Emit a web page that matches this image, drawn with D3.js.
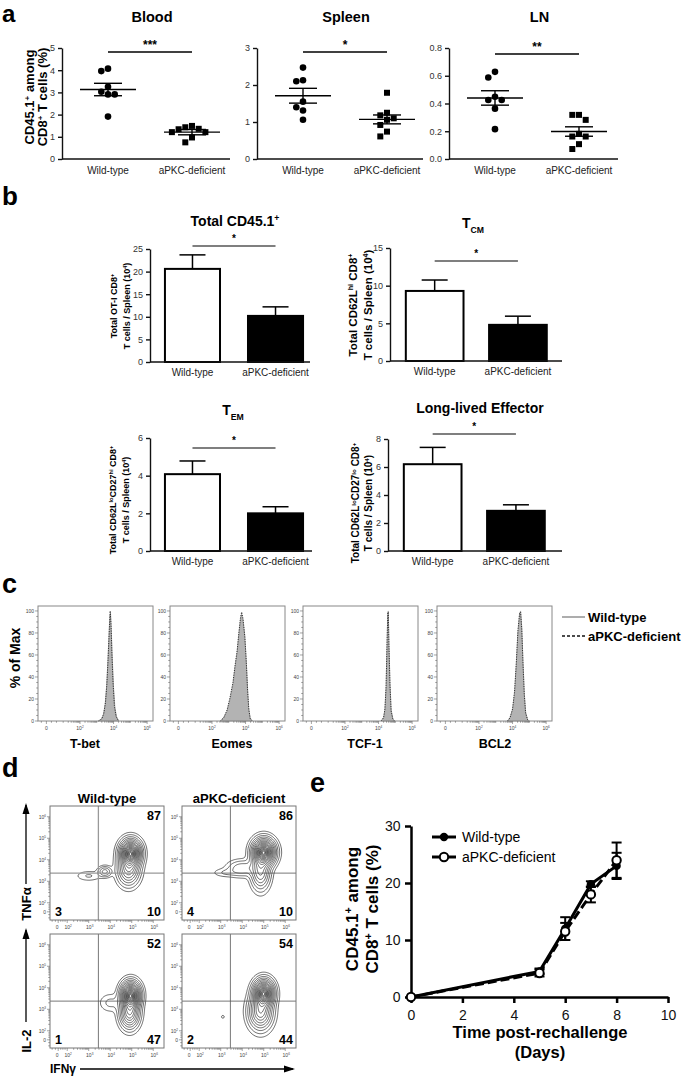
<!DOCTYPE html>
<html><head><meta charset="utf-8">
<script src="https://cdn.jsdelivr.net/npm/d3@7"></script>
<style>
body{margin:0;background:#fff}
text{font-family:"Liberation Sans",Arial,Helvetica,sans-serif}
</style>
</head><body>
<svg id="fig" width="685" height="1083" xmlns="http://www.w3.org/2000/svg"></svg>
<script>
// ================= DATA =================
const groups = ["Wild-type", "aPKC-deficient"];

// Panel a: CD45.1+ among CD8+ T cells (%)
const bloodWT = [4.07, 3.96, 3.25, 3.03, 2.91, 2.91, 1.91];
const bloodKO = [1.49, 1.36, 1.21, 1.21, 1.34, 1.43, 0.97, 0.75];
const bloodMean = [3.13, 1.21], bloodSem = [0.28, 0.12];
const spleenWT = [2.47, 2.13, 2.10, 1.55, 1.40, 1.31, 1.06];
const spleenKO = [1.79, 1.25, 1.18, 1.10, 1.06, 0.92, 0.74, 0.61];
const spleenMean = [1.71, 1.07], spleenSem = [0.20, 0.12];
const lnWT = [0.628, 0.587, 0.449, 0.425, 0.425, 0.363, 0.215];
const lnKO = [0.318, 0.318, 0.282, 0.181, 0.162, 0.162, 0.107, 0.072];
const lnMean = [0.44, 0.198], lnSem = [0.052, 0.034];

// Panel b: bar means and SEM (x10^4 cells / spleen)
const totalMean = [20.6, 10.2], totalSem = [3.1, 2.0];
const tcmMean = [9.3, 4.8], tcmSem = [1.45, 1.15];
const temMean = [4.08, 2.0], temSem = [0.7, 0.35];
const lleMean = [6.2, 2.87], lleSem = [1.2, 0.43];

// Panel c: histograms [log10 fluorescence, % of max]
const histMarkers = ["T-bet", "Eomes", "TCF-1", "BCL2"];
const tbetWT = [[3.1,0],[3.3,2],[3.4,6],[3.5,15],[3.58,30],[3.65,50],[3.72,75],[3.78,96],[3.82,98],[3.87,80],[3.93,55],[4.0,30],[4.08,12],[4.18,4],[4.3,0]];
const tbetKO = [[3.1,0],[3.3,2],[3.42,7],[3.52,17],[3.6,33],[3.67,55],[3.74,80],[3.8,100],[3.85,88],[3.9,62],[3.97,35],[4.05,14],[4.15,4],[4.3,0]];
const eomesWT = [[2.5,0],[2.7,3],[2.9,9],[3.07,19],[3.25,33],[3.37,48],[3.5,62],[3.6,78],[3.7,92],[3.76,97],[3.84,92],[3.95,78],[4.04,55],[4.12,30],[4.18,12],[4.27,3],[4.4,0]];
const eomesKO = [[2.5,0],[2.7,3],[2.9,10],[3.07,21],[3.25,35],[3.37,50],[3.5,64],[3.6,80],[3.7,94],[3.77,99],[3.85,93],[3.96,76],[4.05,52],[4.12,28],[4.2,10],[4.28,2],[4.4,0]];
const tcfWT = [[4.15,0],[4.3,3],[4.38,10],[4.45,30],[4.5,65],[4.55,97],[4.58,100],[4.62,70],[4.68,35],[4.75,10],[4.85,2],[4.95,0]];
const tcfKO = [[4.15,0],[4.3,3],[4.38,11],[4.45,32],[4.5,68],[4.55,98],[4.58,99],[4.62,68],[4.68,33],[4.75,9],[4.85,2],[4.95,0]];
const bclWT = [[3.7,0],[3.85,3],[4.0,10],[4.12,25],[4.22,50],[4.32,80],[4.42,97],[4.48,100],[4.55,85],[4.62,55],[4.7,25],[4.78,8],[4.9,1],[5.0,0]];
const bclKO = [[3.7,0],[3.85,3],[4.0,11],[4.12,27],[4.22,52],[4.32,82],[4.42,98],[4.48,99],[4.55,83],[4.62,53],[4.7,24],[4.78,7],[4.9,1],[5.0,0]];

// Panel d: contour density components [cx, cy (log10), sx, sy, weight]
const tnfWT = [[4.95,4.3,0.26,0.33,1.0],[4.85,3.55,0.28,0.4,0.35],[3.75,3.45,0.18,0.14,0.13],[3.0,3.25,0.35,0.14,0.035]];
const tnfKO = [[5.0,4.35,0.28,0.33,1.0],[4.85,3.45,0.24,0.45,0.3],[4.0,3.6,0.4,0.22,0.1],[3.2,3.4,0.35,0.12,0.03]];
const il2WT = [[4.95,3.65,0.24,0.33,1.0],[4.9,2.85,0.25,0.4,0.45],[4.0,3.3,0.3,0.25,0.04]];
const il2KO = [[5.0,3.75,0.25,0.33,1.0],[4.85,2.9,0.3,0.45,0.45],[3.1,2.65,0.07,0.07,0.02]];
const tnfWTq = ["87", "3", "10"], tnfKOq = ["86", "4", "10"];
const il2WTq = ["52", "1", "47"], il2KOq = ["54", "2", "44"];

// Panel e: time course
const days = [0, 5, 6, 7, 8];
const eWT = [0, 4.5, 12.0, 19.8, 23.0], eWTerr = [0, 0.5, 2.0, 0.5, 2.3];
const eKO = [0, 4.2, 11.5, 18.0, 24.0], eKOerr = [0, 0.6, 1.5, 1.4, 3.1];

// ================= HELPERS =================
const svg = d3.select("#fig");
svg.append("rect").attr("width", 685).attr("height", 1083).attr("fill", "#fff");

function rich(sel, parts) {
  parts.forEach(p => {
    const [t, type] = Array.isArray(p) ? p : [p, null];
    const ts = sel.append("tspan").text(t);
    if (type === "sup") ts.attr("baseline-shift", "super").attr("font-size", "62%");
    if (type === "sub") ts.attr("baseline-shift", "sub").attr("font-size", "62%");
  });
  return sel;
}
function txt(g, x, y, parts, size, opts = {}) {
  const t = g.append("text").attr("x", x).attr("y", y).attr("font-size", size)
    .attr("font-weight", opts.bold ? "bold" : "normal")
    .attr("text-anchor", opts.anchor || "start").attr("fill", opts.fill || "#000");
  if (opts.rotate) t.attr("transform", `rotate(-90,${x},${y})`);
  return rich(t, typeof parts === "string" ? [parts] : parts);
}

// panel letters
[["a", 2, 22, 24], ["b", 2, 205, 26], ["c", 2, 593, 27], ["d", 2, 777, 27], ["e", 310, 792, 27]].forEach(([l, x, y, s]) =>
  txt(svg, x, y, l, s, { bold: true }));

// ================= PANEL a =================
function beeswarm(vals, ys, cx, sp) {
  const pts = [];
  vals.map(v => v).sort((a, b) => b - a).forEach(v => {
    const py = ys(v);
    for (const k of [0, -1, 1, -2, 2, -3, 3]) {
      const px = cx + k * sp;
      if (pts.every(p => Math.hypot(p.x - px, p.y - py) >= sp * 0.98)) { pts.push({ x: px, y: py }); break; }
    }
  });
  return pts;
}
const aPanels = [
  { title: "Blood", x0: 62, x1: 230, max: 5, step: 1, fmt: d3.format("d"), wt: bloodWT, ko: bloodKO, mean: bloodMean, sem: bloodSem, sig: "***", sy: 52 },
  { title: "Spleen", x0: 257, x1: 423, max: 3, step: 1, fmt: d3.format("d"), wt: spleenWT, ko: spleenKO, mean: spleenMean, sem: spleenSem, sig: "*", sy: 52 },
  { title: "LN", x0: 449, x1: 618, max: 0.8, step: 0.2, fmt: d3.format(".1f"), wt: lnWT, ko: lnKO, mean: lnMean, sem: lnSem, sig: "**", sy: 54 }
];
aPanels.forEach(P => {
  const g = svg.append("g");
  const y = d3.scaleLinear([0, P.max], [159, 48]);
  const x = d3.scalePoint(groups, [P.x0 + 46, P.x0 + 130]);
  const yAx = g.append("g").attr("transform", `translate(${P.x0},0)`)
    .call(d3.axisLeft(y).tickValues(d3.range(0, P.max + 1e-9, P.step)).tickFormat(P.fmt).tickSize(4).tickSizeOuter(0));
  yAx.selectAll("text").attr("font-size", 9).attr("fill", "#333").attr("font-family", "Liberation Sans, Arial");
  yAx.selectAll("line,path").attr("stroke", "#111").attr("stroke-width", 1.4);
  g.append("line").attr("x1", P.x0).attr("x2", P.x1).attr("y1", y(0)).attr("y2", y(0)).attr("stroke", "#111").attr("stroke-width", 1.4);
  groups.forEach((gr, i) => txt(g, x(gr), 174, gr, 10, { anchor: "middle", fill: "#222" }));
  txt(g, (P.x0 + P.x1) / 2 + 6, 22, P.title, 14.5, { bold: true, anchor: "middle" });
  beeswarm(P.wt, y, x(groups[0]), 6.7).forEach(p =>
    g.append("circle").attr("cx", p.x).attr("cy", p.y).attr("r", 3.3).attr("fill", "#000"));
  beeswarm(P.ko, y, x(groups[1]), 6.7).forEach(p =>
    g.append("rect").attr("x", p.x - 3).attr("y", p.y - 3).attr("width", 6).attr("height", 6).attr("fill", "#000"));
  groups.forEach((gr, i) => {
    const cx = x(gr);
    g.append("line").attr("x1", cx - 28).attr("x2", cx + 28).attr("y1", y(P.mean[i])).attr("y2", y(P.mean[i])).attr("stroke", "#000").attr("stroke-width", 1.4);
    [P.mean[i] + P.sem[i], P.mean[i] - P.sem[i]].forEach(v =>
      g.append("line").attr("x1", cx - 14).attr("x2", cx + 14).attr("y1", y(v)).attr("y2", y(v)).attr("stroke", "#000").attr("stroke-width", 1.4));
    g.append("line").attr("x1", cx).attr("x2", cx).attr("y1", y(P.mean[i] + P.sem[i])).attr("y2", y(P.mean[i] - P.sem[i])).attr("stroke", "#000").attr("stroke-width", 1.4);
  });
  g.append("line").attr("x1", x(groups[0])).attr("x2", x(groups[1])).attr("y1", P.sy).attr("y2", P.sy).attr("stroke", "#000").attr("stroke-width", 1.4);
  txt(g, (x(groups[0]) + x(groups[1])) / 2, P.sy - 3, P.sig, 12, { anchor: "middle", bold: true });
});
txt(svg, 34, 97, ["CD45.1", ["+", "sup"], " among"], 13, { bold: true, anchor: "middle", rotate: true });
txt(svg, 47, 97, ["CD8", ["+", "sup"], " T cells (%)"], 13, { bold: true, anchor: "middle", rotate: true });

// ================= PANEL b =================
const bPanels = [
  { x0: 150, x1: 310, band: [150, 318], pi: 0.337, po: 0.18, y0: 362, yt: 249, max: 25, step: 5, mean: totalMean, sem: totalSem,
    title: ["Total CD45.1", ["+", "sup"]], tx: 235, ty: 226, sy: 246,
    lab: [["Total OT-I CD8", ["+", "sup"]], ["T cells / Spleen (10", ["4", "sup"], ")"]], lx: [117, 130], ly: 306, ls: 9 },
  { x0: 390, x1: 562, band: [390, 562.6], pi: 0.307, po: 0.19, y0: 361, yt: 248, max: 15, step: 5, mean: tcmMean, sem: tcmSem,
    title: ["T", ["CM", "sub"]], tx: 473, ty: 228, sy: 261,
    lab: [["Total CD62L", ["hi", "sup"], " CD8", ["+", "sup"]], ["T cells / Spleen (10", ["4", "sup"], ")"]], lx: [357, 372], ly: 305, ls: 11.5 },
  { x0: 150, x1: 312, band: [150, 318], pi: 0.337, po: 0.18, y0: 551, yt: 438, max: 6, step: 2, mean: temMean, sem: temSem,
    title: ["T", ["EM", "sub"]], tx: 233, ty: 415, sy: 448,
    lab: [["Total CD62L", ["lo", "sup"], "CD27", ["hi", "sup"], " CD8", ["+", "sup"]], ["T cells / Spleen (10", ["4", "sup"], ")"]], lx: [116, 129], ly: 500, ls: 9 },
  { x0: 388, x1: 562, band: [388, 560.6], pi: 0.307, po: 0.19, y0: 551, yt: 439, max: 8, step: 2, mean: lleMean, sem: lleSem,
    title: ["Long-lived Effector"], tx: 480, ty: 413, sy: 434,
    lab: [["Total CD62L", ["lo", "sup"], "CD27", ["lo", "sup"], " CD8", ["+", "sup"]], ["T cells / Spleen (10", ["4", "sup"], ")"]], lx: [359, 372], ly: 503, ls: 10 }
];
bPanels.forEach(P => {
  const g = svg.append("g");
  const y = d3.scaleLinear([0, P.max], [P.y0, P.yt]);
  const x = d3.scaleBand(groups, P.band).paddingInner(P.pi).paddingOuter(P.po);
  const yAx = g.append("g").attr("transform", `translate(${P.x0},0)`)
    .call(d3.axisLeft(y).tickValues(d3.range(0, P.max + 1e-9, P.step)).tickFormat(d3.format("d")).tickSize(4).tickSizeOuter(0));
  yAx.selectAll("text").attr("font-size", 9).attr("fill", "#333").attr("font-family", "Liberation Sans, Arial");
  yAx.selectAll("line,path").attr("stroke", "#111").attr("stroke-width", 1.4);
  groups.forEach((gr, i) => {
    const bx = x(gr), bw = x.bandwidth(), cx = bx + bw / 2;
    g.append("line").attr("x1", cx).attr("x2", cx).attr("y1", y(P.mean[i])).attr("y2", y(P.mean[i] + P.sem[i])).attr("stroke", "#000").attr("stroke-width", 1.5);
    g.append("line").attr("x1", cx - 13).attr("x2", cx + 13).attr("y1", y(P.mean[i] + P.sem[i])).attr("y2", y(P.mean[i] + P.sem[i])).attr("stroke", "#000").attr("stroke-width", 1.5);
    g.append("rect").attr("x", bx).attr("y", y(P.mean[i])).attr("width", bw).attr("height", y(0) - y(P.mean[i]))
      .attr("fill", i === 0 ? "#fff" : "#000").attr("stroke", "#000").attr("stroke-width", 2);
    txt(g, cx, P.y0 + 14, gr, 10, { anchor: "middle", fill: "#222" });
  });
  g.append("line").attr("x1", P.x0).attr("x2", P.x1).attr("y1", y(0)).attr("y2", y(0)).attr("stroke", "#111").attr("stroke-width", 1.4);
  const c0 = x(groups[0]) + x.bandwidth() / 2, c1 = x(groups[1]) + x.bandwidth() / 2;
  g.append("line").attr("x1", c0).attr("x2", c1).attr("y1", P.sy).attr("y2", P.sy).attr("stroke", "#000").attr("stroke-width", 1.2);
  txt(g, (c0 + c1) / 2, P.sy - 4, "*", 10, { anchor: "middle", bold: true });
  txt(g, P.tx, P.ty, P.title, 14, { anchor: "middle", bold: true });
  P.lab.forEach((l, i) => txt(g, P.lx[i], P.ly, l, P.ls, { anchor: "middle", bold: true, rotate: true }));
});

// ================= PANEL c =================
const hx = d3.scaleLinear([-0.5, 6.35], [0, 115]);
const hy = d3.scaleLinear([0, 104.5], [115, 0]);
const cLefts = [38, 170, 303, 437], cTop = 606;
const histWT = [tbetWT, eomesWT, tcfWT, bclWT], histKO = [tbetKO, eomesKO, tcfKO, bclKO];
const cLabelX = [85, 232, 365, 495];
const supLab = d => d === 0 ? ["0"] : ["10", [String(d), "sup"]];
histMarkers.forEach((m, i) => {
  const g = svg.append("g").attr("transform", `translate(${cLefts[i]},${cTop})`);
  const area = d3.area().x(d => hx(d[0])).y0(hy(0)).y1(d => hy(d[1]));
  const line = d3.line().x(d => hx(d[0])).y(d => hy(d[1]));
  g.append("path").attr("d", area(histWT[i])).attr("fill", "#b3b3b3").attr("stroke", "#9a9a9a").attr("stroke-width", 0.8);
  g.append("path").attr("d", line(histKO[i])).attr("fill", "none").attr("stroke", "#222").attr("stroke-width", 0.9).attr("stroke-dasharray", "1.2,1.2");
  g.append("rect").attr("width", 115).attr("height", 115).attr("fill", "none").attr("stroke", "#888").attr("stroke-width", 1);
  d3.range(0, 101, 5).forEach(v => g.append("line").attr("x1", v % 20 === 0 ? -3 : -1.8).attr("x2", 0).attr("y1", hy(v)).attr("y2", hy(v)).attr("stroke", "#666").attr("stroke-width", 0.6));
  d3.range(0, 101, 20).forEach(v => txt(g, -4, hy(v) + 1.8, String(v), 5, { anchor: "end", fill: "#444" }));
  const minors = [];
  for (let d = 1; d < 6; d++) for (let k = 2; k <= 9; k++) minors.push(d + Math.log10(k));
  minors.concat([-0.3, 0.3, 0.6, 1, 3, 5]).forEach(v => g.append("line").attr("x1", hx(v)).attr("x2", hx(v)).attr("y1", 115).attr("y2", 116.8).attr("stroke", "#666").attr("stroke-width", 0.6));
  [0, 2, 4, 6].forEach(d => {
    g.append("line").attr("x1", hx(d)).attr("x2", hx(d)).attr("y1", 115).attr("y2", 118).attr("stroke", "#666").attr("stroke-width", 0.6);
    txt(g, hx(d), 124, supLab(d), 5, { anchor: "middle", fill: "#444" });
  });
  txt(svg, cLabelX[i], 748, m, 12.5, { anchor: "middle", bold: true });
});
txt(svg, 20, 658, "% of Max", 14, { anchor: "middle", bold: true, rotate: true });
svg.append("line").attr("x1", 562).attr("x2", 585).attr("y1", 617).attr("y2", 617).attr("stroke", "#999").attr("stroke-width", 1.6);
txt(svg, 588, 622, "Wild-type", 13, { bold: true });
svg.append("line").attr("x1", 562).attr("x2", 585).attr("y1", 636).attr("y2", 636).attr("stroke", "#111").attr("stroke-width", 1.6).attr("stroke-dasharray", "3,2");
txt(svg, 588, 641, "aPKC-deficient", 13, { bold: true });

// ================= PANEL d =================
const dCols = [50, 182], dRows = [806, 934], dS = 114;
const dx = d3.scaleLinear([1.2, 6.5], [0, dS]);
const dy = d3.scaleLinear([1.2, 6.5], [dS, 0]);
const dComps = [[tnfWT, tnfKO], [il2WT, il2KO]];
const dQ = [[tnfWTq, tnfKOq], [il2WTq, il2KOq]];
const dLevels = [0.012, 0.03, 0.06, 0.1, 0.15, 0.21, 0.28, 0.35, 0.43, 0.51, 0.59, 0.67, 0.74, 0.8, 0.86, 0.91, 0.95, 0.98];
svg.append("defs").append("clipPath").attr("id", "dclip").append("rect").attr("width", dS).attr("height", dS);
dRows.forEach((ry, r) => dCols.forEach((cx0, c) => {
  const g = svg.append("g").attr("transform", `translate(${cx0},${ry})`);
  const n = 110, lo = 1.2, hi = 6.5, st = (hi - lo) / n;
  const vals = new Float64Array(n * n);
  const comps = dComps[r][c];
  for (let j = 0; j < n; j++) for (let i = 0; i < n; i++) {
    const X = lo + (i + 0.5) * st, Y = lo + (j + 0.5) * st;
    let s = 0;
    comps.forEach(([mx, my, sx, sy, w]) => { s += w * Math.exp(-((X - mx) ** 2 / (2 * sx * sx) + (Y - my) ** 2 / (2 * sy * sy))); });
    vals[j * n + i] = s;
  }
  const mx = d3.max(vals);
  const conts = d3.contours().size([n, n]).thresholds(dLevels.map(f => f * mx))(vals);
  const proj = d3.geoTransform({ point(px, py) { this.stream.point(dx(lo + px * st), dy(lo + py * st)); } });
  const path = d3.geoPath(proj);
  g.append("g").attr("clip-path", "url(#dclip)").selectAll("path").data(conts).join("path")
    .attr("d", path).attr("fill", "none").attr("stroke", "#1a1a1a").attr("stroke-width", 0.65);
  const first = (r === 0 && c === 0);
  const qc = first ? "#999" : "#555";
  g.append("line").attr("x1", dx(3.45)).attr("x2", dx(3.45)).attr("y1", 0).attr("y2", dS).attr("stroke", qc).attr("stroke-width", first ? 1.3 : 0.8);
  g.append("line").attr("x1", 0).attr("x2", dS).attr("y1", dy(3.38)).attr("y2", dy(3.38)).attr("stroke", qc).attr("stroke-width", first ? 1.3 : 0.8);
  g.append("rect").attr("width", dS).attr("height", dS).attr("fill", "none").attr("stroke", "#777").attr("stroke-width", 1);
  const minors = [];
  for (let d = 2; d < 6; d++) for (let k = 2; k <= 9; k++) minors.push(d + Math.log10(k));
  minors.concat([1.3, 1.45, 1.7, 1.8, 1.9]).forEach(v => {
    g.append("line").attr("x1", dx(v)).attr("x2", dx(v)).attr("y1", dS).attr("y2", dS + 1.8).attr("stroke", "#666").attr("stroke-width", 0.6);
    g.append("line").attr("x1", -1.8).attr("x2", 0).attr("y1", dy(v)).attr("y2", dy(v)).attr("stroke", "#666").attr("stroke-width", 0.6);
  });
  [[1.58, ["0"]], [2, ["10", ["2", "sup"]]], [3, ["10", ["3", "sup"]]], [4, ["10", ["4", "sup"]]], [5, ["10", ["5", "sup"]]], [6, ["10", ["6", "sup"]]]].forEach(([v, lab]) => {
    g.append("line").attr("x1", dx(v)).attr("x2", dx(v)).attr("y1", dS).attr("y2", dS + 3).attr("stroke", "#666").attr("stroke-width", 0.6);
    g.append("line").attr("x1", -3).attr("x2", 0).attr("y1", dy(v)).attr("y2", dy(v)).attr("stroke", "#666").attr("stroke-width", 0.6);
    txt(g, dx(v) + (v === 1.58 ? -1 : 1), dS + 9, lab, 5, { anchor: "middle", fill: "#444" });
    txt(g, -4, dy(v) + 1.8, lab, 5, { anchor: "end", fill: "#444" });
  });
  const q = dQ[r][c];
  txt(g, dS - 3, 14, q[0], 12.5, { anchor: "end", bold: true });
  txt(g, 5, dS - 4, q[1], 12.5, { bold: true });
  txt(g, dS - 3, dS - 4, q[2], 12.5, { anchor: "end", bold: true });
}));
txt(svg, 107, 803, "Wild-type", 13, { anchor: "middle", bold: true });
txt(svg, 239, 803, "aPKC-deficient", 13, { anchor: "middle", bold: true });
function arrow(x1, y1, x2, y2) {
  svg.append("line").attr("x1", x1).attr("y1", y1).attr("x2", x2).attr("y2", y2).attr("stroke", "#000").attr("stroke-width", 1.3);
  const a = Math.atan2(y2 - y1, x2 - x1), L = 9, W = 3.5;
  const p = [[x2 + Math.cos(a) * 2, y2 + Math.sin(a) * 2],
    [x2 - Math.cos(a) * L + Math.sin(a) * W, y2 - Math.sin(a) * L - Math.cos(a) * W],
    [x2 - Math.cos(a) * L - Math.sin(a) * W, y2 - Math.sin(a) * L + Math.cos(a) * W]];
  svg.append("path").attr("d", "M" + p.join("L") + "Z").attr("fill", "#000");
}
arrow(26, 884, 26, 805);
txt(svg, 31, 904, "TNFα", 13, { anchor: "middle", bold: true, rotate: true });
arrow(26, 1022, 26, 930);
txt(svg, 31, 1041, "IL-2", 13, { anchor: "middle", bold: true, rotate: true });
txt(svg, 50, 1073, "IFNγ", 12, { bold: true });
arrow(80, 1069, 293, 1069);

// ================= PANEL e =================
const ex = d3.scaleLinear([0, 10], [411, 668]);
const ey = d3.scaleLinear([0, 30], [997, 826]);
const ge = svg.append("g");
const xa = ge.append("g").attr("transform", "translate(0,997)").call(d3.axisBottom(ex).tickValues(d3.range(0, 11, 2)).tickSize(6).tickSizeOuter(0));
const ya = ge.append("g").attr("transform", "translate(411,0)").call(d3.axisLeft(ey).tickValues([0, 10, 20, 30]).tickSize(6).tickSizeOuter(0));
[xa, ya].forEach(a => {
  a.selectAll("path,line").attr("stroke", "#000").attr("stroke-width", 2.5);
  a.selectAll("text").attr("font-size", 14).attr("fill", "#111").attr("font-family", "Liberation Sans, Arial");
});
xa.selectAll("text").attr("dy", "1.0em");
ya.selectAll("text").attr("dx", "-0.1em");
const eLine = d3.line().x((d, i) => ex(days[i])).y(d => ey(d));
[[eWT, eWTerr], [eKO, eKOerr]].forEach(([v, e]) => v.forEach((m, i) => {
  if (e[i] <= 0) return;
  const cx = ex(days[i]);
  ge.append("line").attr("x1", cx).attr("x2", cx).attr("y1", ey(m - e[i])).attr("y2", ey(m + e[i])).attr("stroke", "#000").attr("stroke-width", 2);
  [m - e[i], m + e[i]].forEach(t => ge.append("line").attr("x1", cx - 5).attr("x2", cx + 5).attr("y1", ey(t)).attr("y2", ey(t)).attr("stroke", "#000").attr("stroke-width", 2));
}));
ge.append("path").attr("d", eLine(eKO)).attr("fill", "none").attr("stroke", "#000").attr("stroke-width", 3).attr("stroke-dasharray", "9,4");
ge.append("path").attr("d", eLine(eWT)).attr("fill", "none").attr("stroke", "#000").attr("stroke-width", 3);
eWT.forEach((v, i) => ge.append("circle").attr("cx", ex(days[i])).attr("cy", ey(v)).attr("r", 4.2).attr("fill", "#000"));
eKO.forEach((v, i) => ge.append("circle").attr("cx", ex(days[i])).attr("cy", ey(v)).attr("r", 4.2).attr("fill", "#fff").attr("stroke", "#000").attr("stroke-width", 2));
ge.append("line").attr("x1", 432).attr("x2", 456).attr("y1", 837).attr("y2", 837).attr("stroke", "#000").attr("stroke-width", 3);
ge.append("circle").attr("cx", 444).attr("cy", 837).attr("r", 4.2).attr("fill", "#000");
txt(ge, 462, 842, "Wild-type", 14);
ge.append("line").attr("x1", 432).attr("x2", 456).attr("y1", 857).attr("y2", 857).attr("stroke", "#000").attr("stroke-width", 3);
ge.append("circle").attr("cx", 444).attr("cy", 857).attr("r", 4.2).attr("fill", "#fff").attr("stroke", "#000").attr("stroke-width", 2);
txt(ge, 462, 862, "aPKC-deficient", 14);
txt(ge, 540, 1038, "Time post-rechallenge", 16.5, { anchor: "middle", bold: true });
txt(ge, 540, 1058, "(Days)", 16.5, { anchor: "middle", bold: true });
txt(ge, 358, 909, ["CD45.1", ["+", "sup"], " among"], 17, { anchor: "middle", bold: true, rotate: true });
txt(ge, 378, 909, ["CD8", ["+", "sup"], " T cells (%)"], 17, { anchor: "middle", bold: true, rotate: true });
</script>
</body></html>
